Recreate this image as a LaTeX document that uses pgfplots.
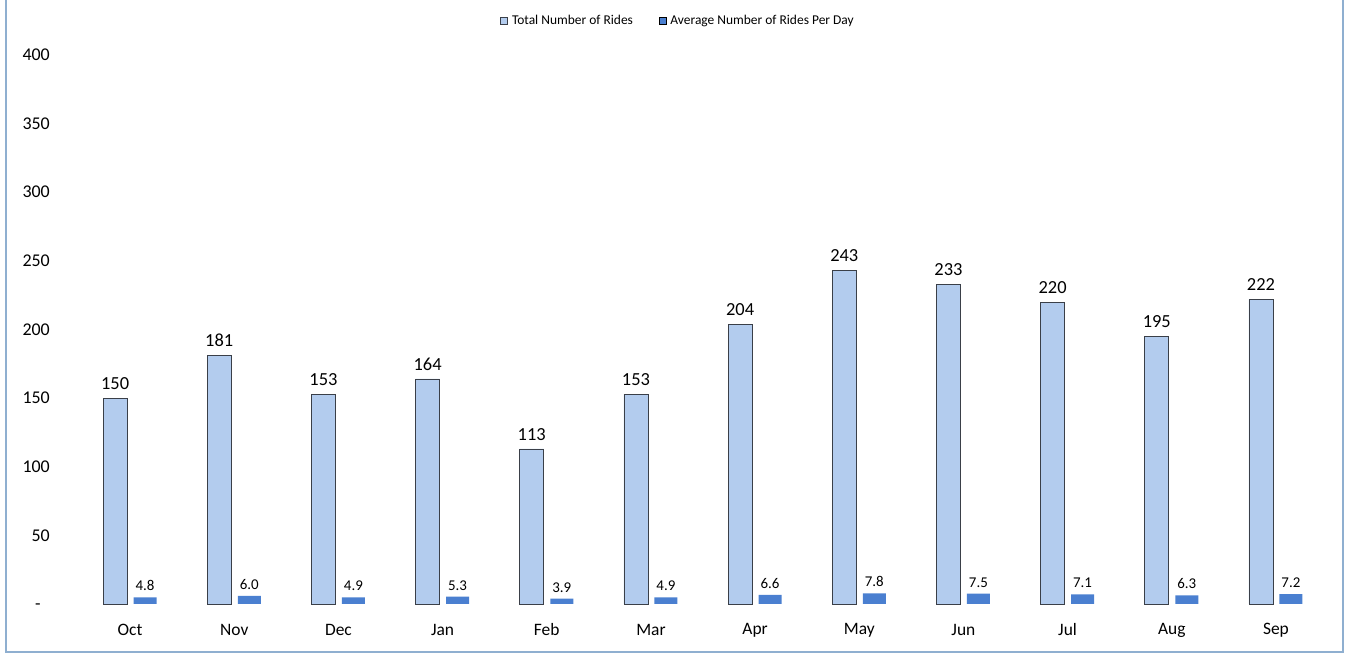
\documentclass[border=0pt]{standalone}
\usepackage{pgfplots}
\pgfplotsset{compat=1.18}
\usepackage{fontspec}
\setmainfont{Carlito}
\definecolor{lightbar}{HTML}{B3CCEE}
\definecolor{darkbar}{HTML}{4A7FD0}
\definecolor{baredge}{HTML}{3A3F48}
\definecolor{frame}{HTML}{8FAFD0}
\begin{document}
\begin{tikzpicture}[x=1bp,y=1bp]
\useasboundingbox (0,0) rectangle (1351,655);
\draw[frame, line width=1.2bp] (6,655) -- (6,3) -- (1343,3) -- (1343,655);
\begin{axis}[
  at={(78bp,51bp)}, anchor=south west,
  scale only axis, width=1250bp, height=549bp,
  xmin=-0.5, xmax=11.5, ymin=0, ymax=400,
  /pgf/number format/assume math mode=true,
  ybar, bar width=24bp,
  axis line style={draw=none}, major tick length=0pt,
  xtick={0,...,11},
  xticklabels={Oct,Nov,Dec,Jan,Feb,Mar,Apr,May,Jun,Jul,Aug,Sep},
  ytick={0,50,...,400},
  yticklabels={-\phantom{0},50,100,150,200,250,300,350,400},
  xticklabel style={font=\fontsize{17.5}{20}\selectfont, inner sep=0pt, anchor=center, yshift=-26bp},
  yticklabel style={font=\fontsize{18}{21}\selectfont, inner sep=0pt, anchor=east, xshift=-28bp},
  clip=false,
  legend columns=2,
  legend style={draw=none, at={(0.48,1.062)}, anchor=center, font=\fontsize{13.5}{15}\selectfont,
    /tikz/every even column/.append style={column sep=24bp},
    /tikz/every odd column/.append style={column sep=2bp}},
  legend image code/.code={\draw[#1] (0bp,-3.5bp) rectangle (7bp,3.5bp);},
]
\addplot[fill=lightbar, draw=baredge, line width=0.7bp, bar shift=-15bp,
  nodes near coords, every node near coord/.append style={font=\fontsize{18.5}{21}\selectfont, black, yshift=5bp}]
  coordinates {(0,150) (1,181) (2,153) (3,164) (4,113) (5,153) (6,204) (7,243) (8,233) (9,220) (10,195) (11,222)};
\addlegendentry{Total Number of Rides}
\addplot[fill=darkbar, draw=none, bar width=23bp, bar shift=15bp,
  nodes near coords,
  every node near coord/.append style={font=\fontsize{15}{17}\selectfont, black, yshift=3bp,
    /pgf/number format/fixed, /pgf/number format/fixed zerofill, /pgf/number format/precision=1}]
  coordinates {(0,4.8) (1,6.0) (2,4.9) (3,5.3) (4,3.9) (5,4.9) (6,6.6) (7,7.8) (8,7.5) (9,7.1) (10,6.3) (11,7.2)};
\addlegendentry{Average Number of Rides Per Day}
\end{axis}
\end{tikzpicture}
\end{document}
